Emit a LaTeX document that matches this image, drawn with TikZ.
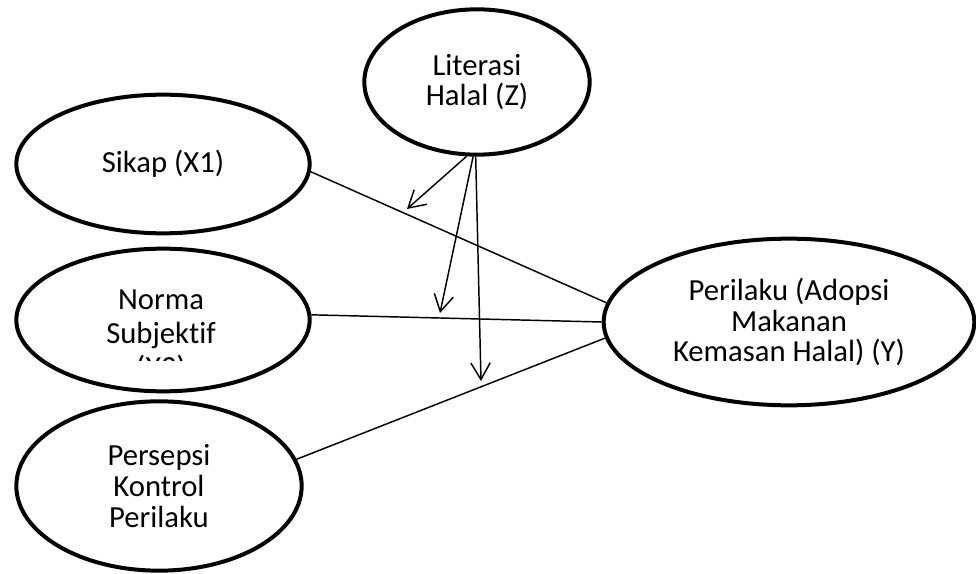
\documentclass[tikz,border=0pt]{standalone}
\usepackage{fontspec}
\setmainfont{Carlito}[Ligatures=NoCommon]
\usepackage{tikz}
\usetikzlibrary{shapes.geometric}
\usetikzlibrary{arrows.meta}

\tikzset{
  var/.style={ellipse,draw,line width=3pt,inner sep=0pt,align=center,font=\fontsize{23}{23}\selectfont},
  path/.style={line width=1.1pt},
  effect/.style={line width=1.1pt,-{Straight Barb[length=12.5pt,width=14.5pt,line width=1.1pt]}}
}

\begin{document}
\begin{tikzpicture}[x=0.75pt,y=-0.75pt]
\useasboundingbox (0,0) rectangle (976,574);
\node[var,minimum width=169pt,minimum height=109pt] (lit) at (477,82) {Literasi\\Halal (Z)};
\node[var,minimum width=220pt,minimum height=104pt] (sik) at (163,164) {Sikap (X1)};
\node[var,minimum width=220pt,minimum height=107pt] (nor) at (163,320) {};
\node[var,minimum width=214pt,minimum height=127pt] (per) at (159,486) {Persepsi\\Kontrol\\Perilaku};
\node[var,minimum width=278pt,minimum height=125pt] (adp) at (789,322) {Perilaku (Adopsi\\Makanan\\Kemasan Halal) (Y)};
\begin{scope}
\clip (20,270) rectangle (300,361);
\node[align=center,font=\fontsize{23}{25.5}\selectfont] (nortext) at (161,336) {Norma\\Subjektif\\(X2)};
\end{scope}
\coordinate (t1) at (407,209);
\coordinate (t2) at (440,313);
\coordinate (t3) at (481,381);
\draw[path] (sik.-3.5) -- (adp.174);
\draw[path] (nor.2) -- (adp.180);
\draw[path] (per.11) -- (adp.185);
\draw[effect] (lit.-98) -- (t1);
\draw[effect] (lit.-93) -- (t2);
\draw[effect] (lit.-91) -- (t3);
\end{tikzpicture}
\end{document}
